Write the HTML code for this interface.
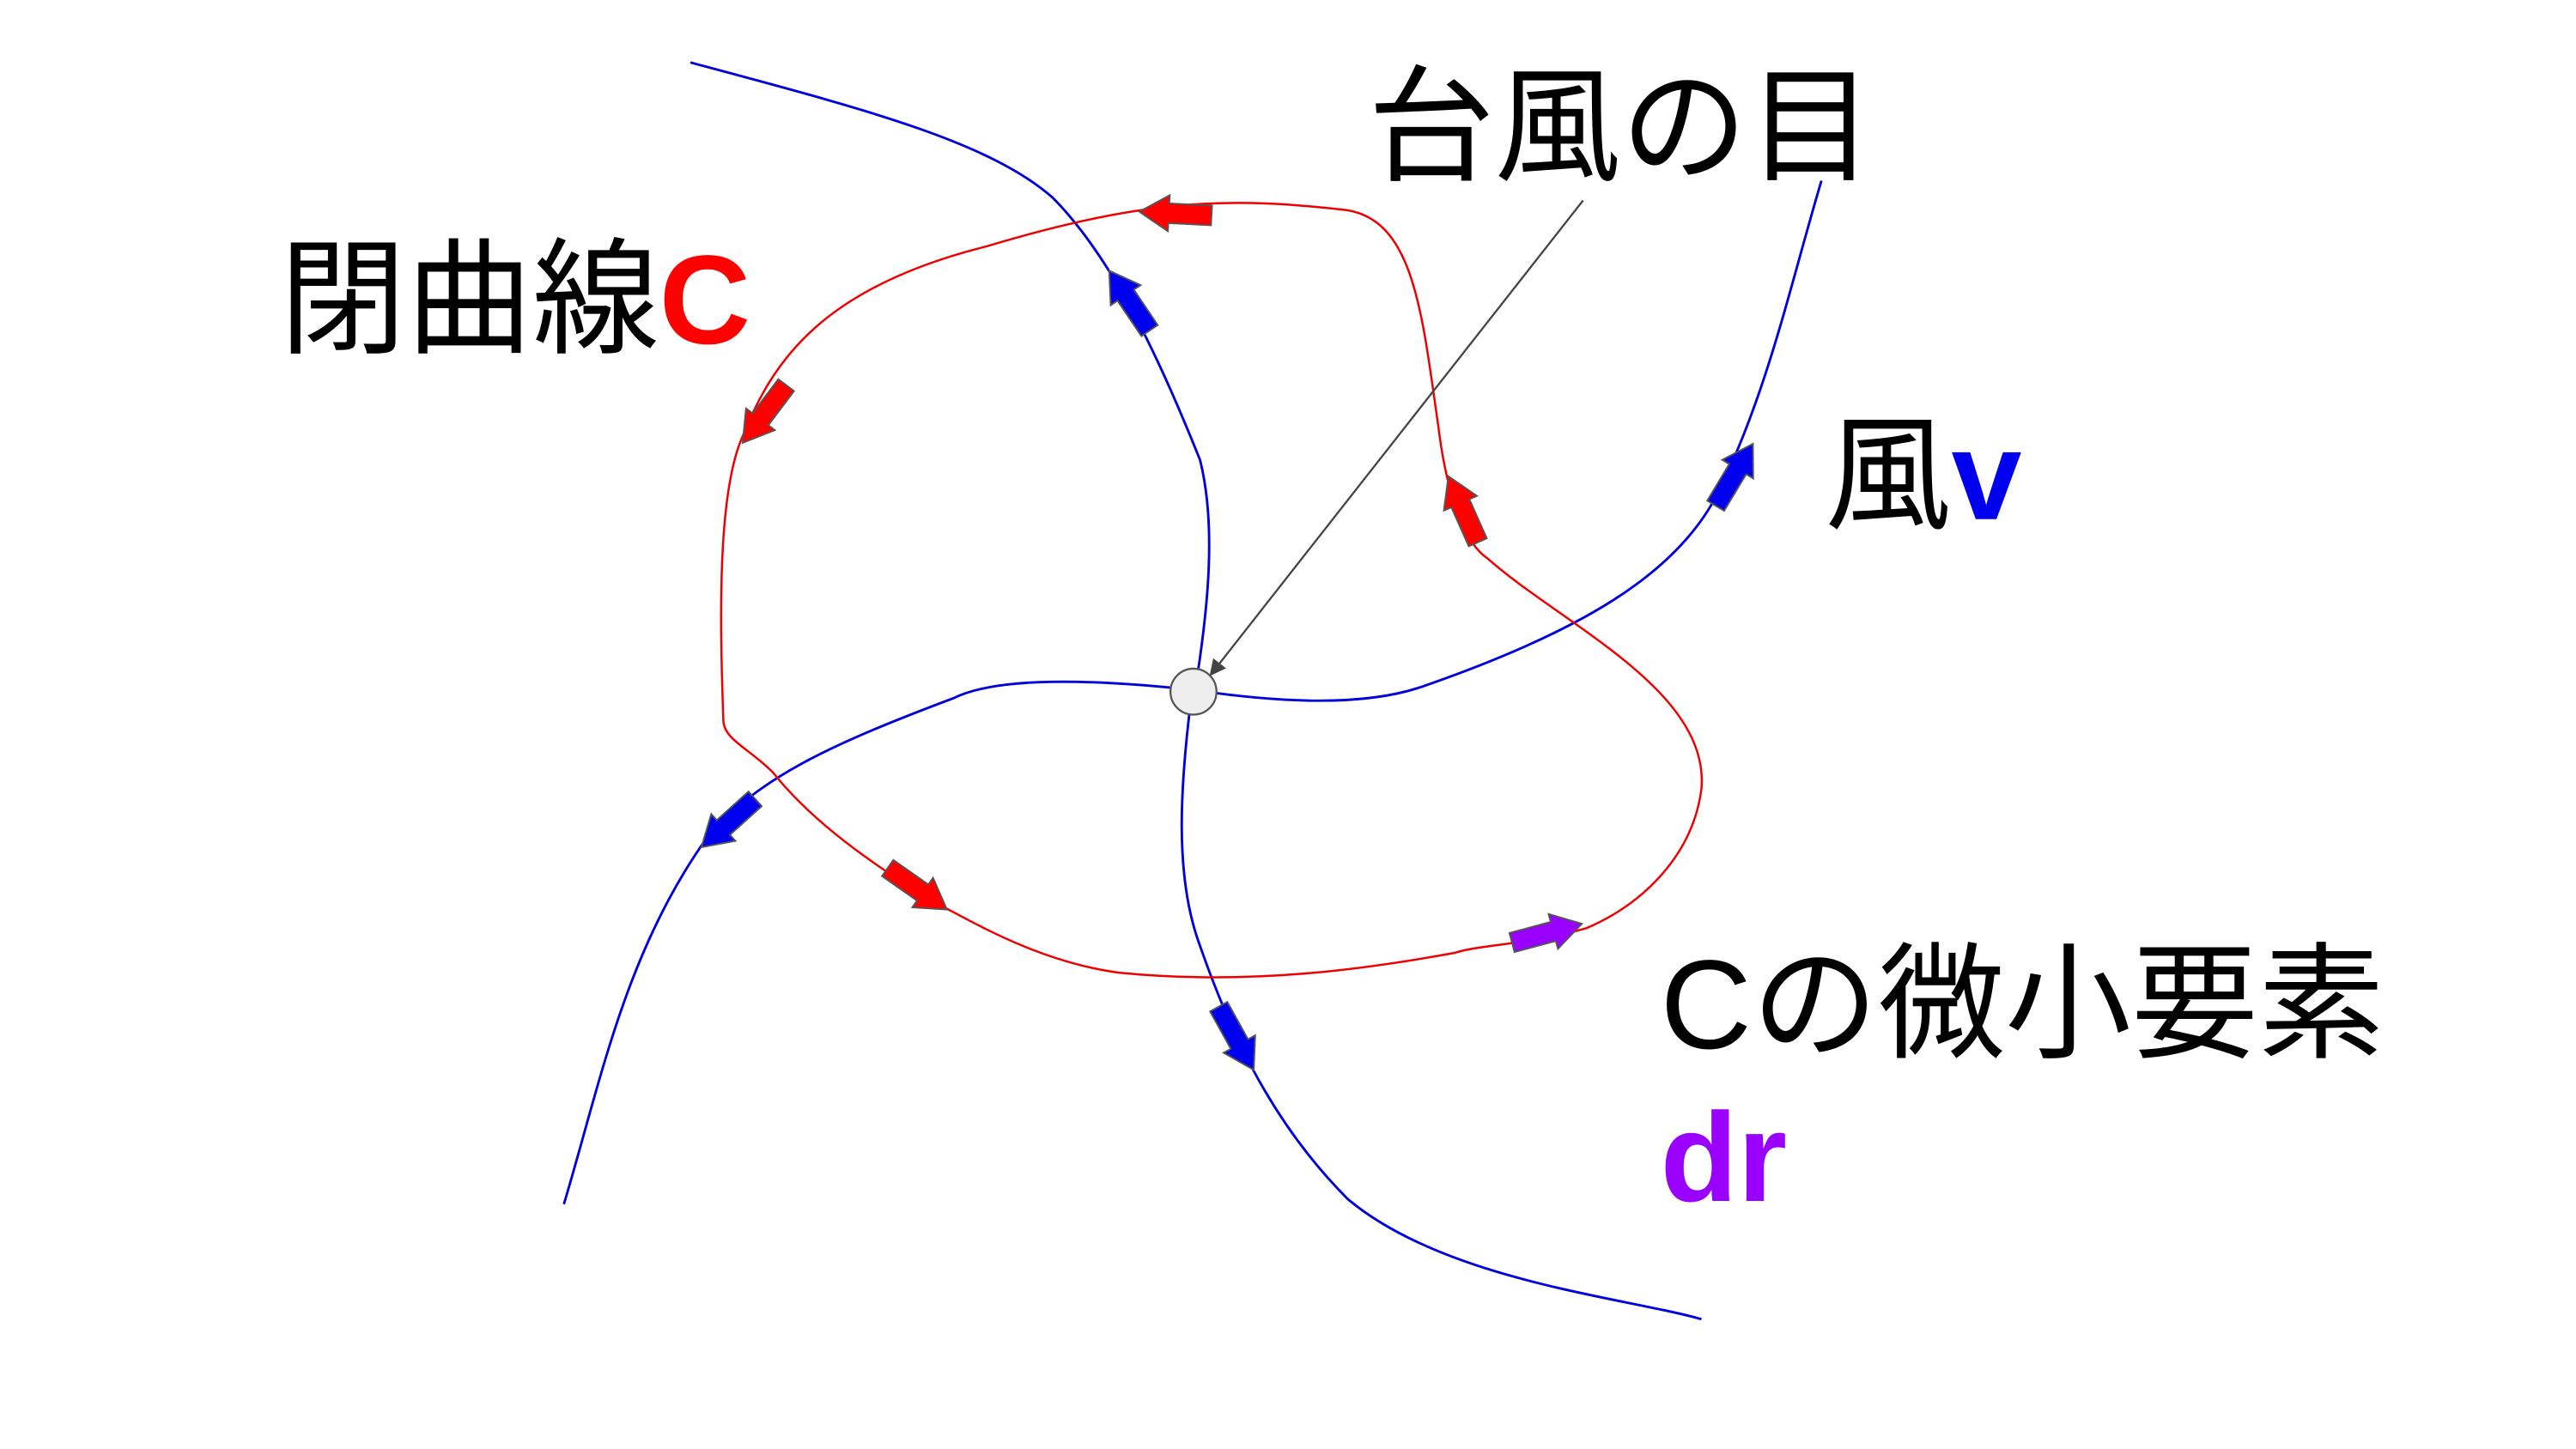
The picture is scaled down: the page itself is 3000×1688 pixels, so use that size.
<!DOCTYPE html>
<html><head><meta charset="utf-8"><style>
html,body{margin:0;padding:0;background:#fff;}
svg{display:block;}
text{font-family:"Liberation Sans","Noto Sans CJK JP",sans-serif;}
</style></head><body>
<svg width="3000" height="1688" viewBox="0 0 1567 882" preserveAspectRatio="none" xmlns="http://www.w3.org/2000/svg">
<defs>
<polygon id="ar" points="-22,-6 4,-6 4,-11 22,0 4,11 4,6 -22,6" stroke="#555" stroke-width="1"/>
<marker id="mh" markerWidth="10" markerHeight="10" refX="8" refY="5" orient="auto" markerUnits="userSpaceOnUse"><path d="M0,0 L10,5 L0,10 z" fill="#444"/></marker>
</defs>
<g fill="none" stroke="#0000dd" stroke-width="1.5">
<path d="M420,38 C520,65 600,85 640,120 C680,160 710,230 730,280 C740,320 735,370 727,420"/>
<path d="M726,420 C780,428 830,430 865,418 C960,385 1020,350 1045,300 C1075,240 1090,170 1108,110"/>
<path d="M726,420 C680,415 610,410 580,425 C500,455 460,475 430,510 C380,580 365,660 343,733"/>
<path d="M724,430 C718,480 715,530 728,570 C745,620 770,680 820,730 C880,780 990,790 1035,803"/>
</g>
<path fill="none" stroke="#ee0000" stroke-width="1.3" d="M440,438 C438,380 436,300 452,265 C470,220 500,175 600,150 C700,120 750,120 820,128 C860,135 865,190 875,260 C880,300 890,330 905,340 C950,380 1040,420 1035,480 C1030,520 1000,550 965,565 C930,575 900,575 885,580 C830,590 760,600 680,592 C630,585 590,560 570,550 C520,520 490,495 470,470 C455,455 440,450 440,438"/>
<line x1="963" y1="122" x2="737" y2="410" stroke="#444" stroke-width="1.2" marker-end="url(#mh)"/>
<circle cx="726" cy="421" r="14" fill="#eeeeee" stroke="#555" stroke-width="1.2"/>
<g fill="#ff0000">
<use href="#ar" transform="translate(715,130) rotate(183)"/>
<use href="#ar" transform="translate(465,252) rotate(127)"/>
<use href="#ar" transform="translate(890,310) rotate(-114)"/>
<use href="#ar" transform="translate(558,541) rotate(35)"/>
</g>
<use href="#ar" fill="#9900ff" transform="translate(941,568) rotate(-15)"/>
<g fill="#0000ee">
<use href="#ar" transform="translate(687,183) rotate(-124)"/>
<use href="#ar" transform="translate(1055,289) rotate(-59)"/>
<use href="#ar" transform="translate(443,501) rotate(138)"/>
<use href="#ar" transform="translate(752,632) rotate(61)"/>
</g>
<text x="832" y="104" font-size="77">台風の目</text>
<text x="170" y="209" font-size="77">閉曲線<tspan fill="#ff0000" font-weight="bold">C</tspan></text>
<text x="1110" y="316" font-size="77">風<tspan fill="#0000ee" font-weight="bold">v</tspan></text>
<text x="1010" y="638" font-size="77">Cの微小要素</text>
<text x="1010" y="731" font-size="77" fill="#9900ff" font-weight="bold">dr</text>
</svg>
</body></html>
